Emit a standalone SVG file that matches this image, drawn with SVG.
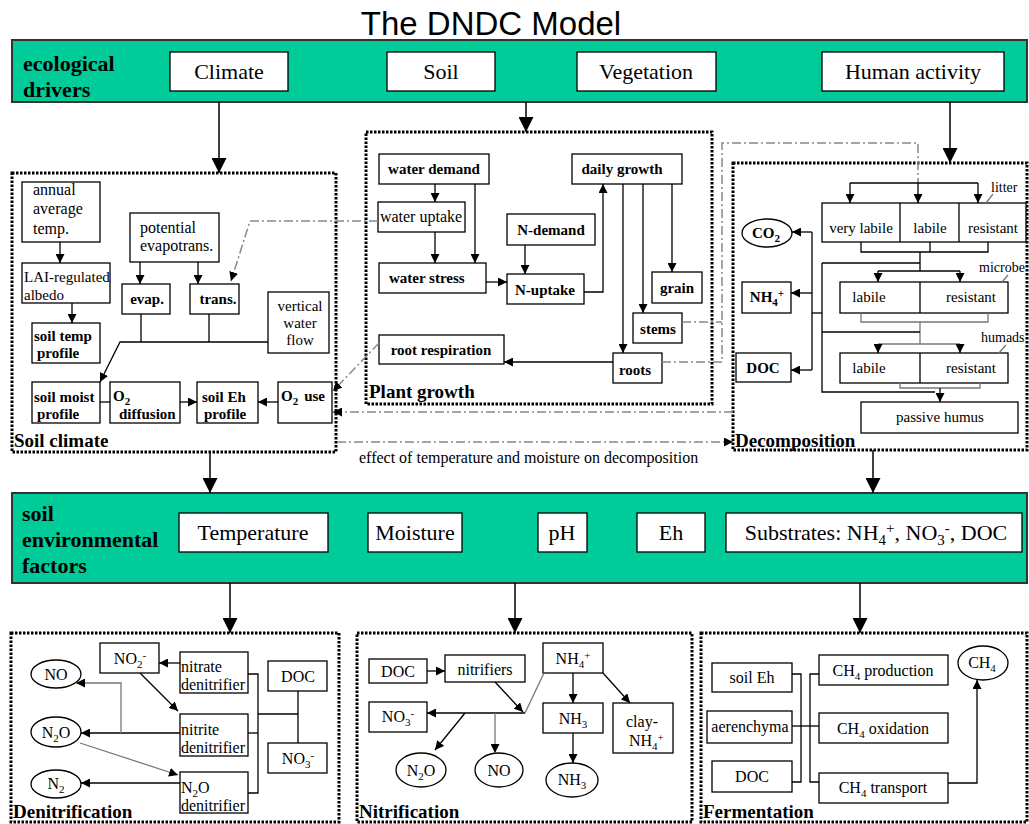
<svg xmlns="http://www.w3.org/2000/svg" width="1029" height="824" viewBox="0 0 1029 824">
<style>
.t{font-family:"Liberation Serif","Times New Roman",serif;font-size:15px;fill:#000}
.m{text-anchor:middle}
.b{font-weight:bold}
.s16{font-size:16px}
.s14{font-size:14px}
.big{font-size:22px}
.lab{font-size:19px;font-weight:bold}
.box{fill:#fff;stroke:#000;stroke-width:1.3}
.el{fill:#fff;stroke:#000;stroke-width:1.3}
.ban{fill:#00CC99;stroke:#333;stroke-width:2}
.panel{fill:none;stroke:#000;stroke-width:3;stroke-dasharray:2.5 1.5}
.ln{fill:none;stroke:#000;stroke-width:1.3}
.gr{fill:none;stroke:#777;stroke-width:1.3}
.dd{fill:none;stroke:#888;stroke-width:1.5;stroke-dasharray:9 3 2 3}
.main{fill:none;stroke:#000;stroke-width:1.5}
</style>
<defs>
<marker id="a" viewBox="0 0 10 10" refX="10" refY="5" markerWidth="9" markerHeight="9" markerUnits="userSpaceOnUse" orient="auto"><path d="M0,0L10,5L0,10z" fill="#000"/></marker>
<marker id="A" viewBox="0 0 10 10" refX="10" refY="5" markerWidth="15" markerHeight="15" markerUnits="userSpaceOnUse" orient="auto"><path d="M0,0L10,5L0,10z" fill="#000"/></marker>
</defs>

<text x="491" y="35" text-anchor="middle" style="font-family:'Liberation Sans',Arial,sans-serif;font-size:33px">The DNDC Model</text>

<!-- ecological drivers banner -->
<g id="drivers">
<rect class="ban" x="12" y="40" width="1015" height="62"/>
<text class="t b big" x="23" y="71">ecological</text>
<text class="t b big" x="23" y="97">drivers</text>
</g>
<g id="climate"><rect class="box" x="170" y="52" width="118" height="39"/><text class="t big m" x="229" y="79">Climate</text></g>
<g id="soil"><rect class="box" x="387" y="52" width="108" height="39"/><text class="t big m" x="441" y="79">Soil</text></g>
<g id="vegetation"><rect class="box" x="577" y="52" width="139" height="39"/><text class="t big m" x="646" y="79">Vegetation</text></g>
<g id="human"><rect class="box" x="822" y="52" width="182" height="39"/><text class="t big m" x="913" y="79">Human activity</text></g>

<!-- panels -->
<g id="soil-climate"><rect class="panel" x="12" y="173" width="324" height="279"/><text class="t lab" x="14" y="447">Soil climate</text></g>
<g id="plant-growth"><rect class="panel" x="366" y="132" width="346" height="272"/><text class="t lab" x="369" y="398">Plant growth</text></g>
<g id="decomposition"><rect class="panel" x="733" y="163" width="294" height="287"/><text class="t lab" x="735" y="447">Decomposition</text></g>

<!-- soil climate nodes -->
<g id="annual"><rect class="box" x="22" y="182" width="78" height="60"/><text class="t s16" x="33" y="195">annual</text><text class="t s16" x="33" y="214">average</text><text class="t s16" x="33" y="234">temp.</text></g>
<g id="lai"><rect class="box" x="22" y="263" width="88" height="40"/><text class="t" x="24" y="282">LAI-regulated</text><text class="t" x="24" y="300">albedo</text></g>
<g id="soiltemp"><rect class="box" x="32" y="323" width="68" height="40"/><text class="t b" x="34" y="341">soil temp</text><text class="t b" x="37" y="358">profile</text></g>
<g id="pet"><rect class="box" x="130" y="213" width="89" height="49"/><text class="t s16" x="140" y="233">potential</text><text class="t s16" x="140" y="251">evapotrans.</text></g>
<g id="evap"><rect class="box" x="122" y="284" width="48" height="30"/><text class="t b m" x="147" y="304">evap.</text></g>
<g id="trans"><rect class="box" x="190" y="284" width="49" height="30"/><text class="t b m" x="218" y="304">trans.</text></g>
<g id="vwf"><rect class="box" x="268" y="292" width="61" height="61"/><text class="t m" x="300" y="311">vertical</text><text class="t m" x="300" y="328">water</text><text class="t m" x="300" y="345">flow</text></g>
<g id="soilmoist"><rect class="box" x="32" y="382" width="68" height="41"/><text class="t b" x="34" y="402">soil moist</text><text class="t b" x="37" y="419">profile</text></g>
<g id="o2diff"><rect class="box" x="110" y="382" width="70" height="41"/><text class="t b" x="113" y="401">O<tspan dy="4" font-size="11">2</tspan></text><text class="t b" x="119" y="419">diffusion</text></g>
<g id="soileh"><rect class="box" x="197" y="382" width="61" height="41"/><text class="t b" x="202" y="402">soil Eh</text><text class="t b" x="204" y="419">profile</text></g>
<g id="o2use"><rect class="box" x="278" y="382" width="54" height="41"/><text class="t b" x="281" y="401">O<tspan dy="4" font-size="11">2</tspan><tspan dy="-4" dx="6">use</tspan></text></g>

<!-- plant growth nodes -->
<g id="waterdemand"><rect class="box" x="379" y="154" width="110" height="30"/><text class="t b m" x="434" y="174">water demand</text></g>
<g id="wateruptake"><rect class="box" x="378" y="202" width="87" height="30"/><text class="t s16 m" x="421" y="222">water uptake</text></g>
<g id="waterstress"><rect class="box" x="379" y="263" width="107" height="30"/><text class="t b" x="389" y="283">water stress</text></g>
<g id="ndemand"><rect class="box" x="507" y="214" width="88" height="31"/><text class="t b m" x="551" y="235">N-demand</text></g>
<g id="nuptake"><rect class="box" x="507" y="274" width="77" height="30"/><text class="t b m" x="545" y="295">N-uptake</text></g>
<g id="dailygrowth"><rect class="box" x="572" y="154" width="110" height="30"/><text class="t b m" x="622" y="174">daily growth</text></g>
<g id="grain"><rect class="box" x="652" y="272" width="50" height="31"/><text class="t b m" x="677" y="293">grain</text></g>
<g id="stems"><rect class="box" x="633" y="313" width="49" height="30"/><text class="t b m" x="658" y="334">stems</text></g>
<g id="roots"><rect class="box" x="613" y="353" width="49" height="30"/><text class="t b m" x="635" y="375">roots</text></g>
<g id="rootresp"><rect class="box" x="379" y="335" width="125" height="29"/><text class="t b m" x="441" y="355">root respiration</text></g>

<!-- decomposition nodes -->
<g id="co2"><ellipse class="el" cx="767" cy="233" rx="25" ry="14"/><text class="t b m" x="766" y="238">CO<tspan dy="4" font-size="11">2</tspan></text></g>
<g id="nh4d"><rect class="box" x="742" y="282" width="49" height="31"/><text class="t b m" x="767" y="302">NH<tspan dy="4" font-size="11">4</tspan><tspan dy="-9" font-size="11">+</tspan></text></g>
<g id="docd"><rect class="box" x="736" y="353" width="55" height="29"/><text class="t b m" x="763" y="373">DOC</text></g>
<g id="litter"><rect class="box" x="822" y="203" width="204" height="39"/><line class="ln" x1="900" y1="203" x2="900" y2="242"/><line class="ln" x1="959" y1="203" x2="959" y2="242"/><text class="t m" x="861" y="233">very labile</text><text class="t m" x="930" y="233">labile</text><text class="t m" x="993" y="233">resistant</text><text class="t s14" x="991" y="192">litter</text><line class="gr" x1="993" y1="194" x2="986" y2="203"/></g>
<g id="microbe"><rect class="box" x="840" y="282" width="168" height="31"/><line class="ln" x1="920" y1="282" x2="920" y2="313"/><text class="t m" x="869" y="302">labile</text><text class="t m" x="971" y="302">resistant</text><text class="t s14" x="979" y="272">microbe</text><line class="gr" x1="1008" y1="275" x2="1002" y2="282"/></g>
<g id="humads"><rect class="box" x="840" y="353" width="168" height="30"/><line class="ln" x1="920" y1="353" x2="920" y2="383"/><text class="t m" x="869" y="373">labile</text><text class="t m" x="971" y="373">resistant</text><text class="t s14" x="981" y="342">humads</text><line class="gr" x1="1006" y1="345" x2="999" y2="353"/></g>
<g id="passive"><rect class="box" x="861" y="402" width="157" height="31"/><text class="t m" x="940" y="422">passive humus</text></g>

<!-- soil environmental factors banner -->
<g id="factors">
<rect class="ban" x="12" y="493" width="1015" height="90"/>
<text class="t b big" x="22" y="521">soil</text>
<text class="t b big" x="22" y="547">environmental</text>
<text class="t b big" x="22" y="573">factors</text>
</g>
<g id="temperature"><rect class="box" x="179" y="513" width="149" height="39"/><text class="t big m" x="253" y="540">Temperature</text></g>
<g id="moisture"><rect class="box" x="368" y="513" width="94" height="39"/><text class="t big m" x="415" y="540">Moisture</text></g>
<g id="ph"><rect class="box" x="538" y="513" width="49" height="39"/><text class="t big m" x="562" y="540">pH</text></g>
<g id="eh"><rect class="box" x="637" y="513" width="68" height="39"/><text class="t big m" x="671" y="540">Eh</text></g>
<g id="substrates"><rect class="box" x="726" y="513" width="296" height="39"/><text class="t big m" x="876" y="540">Substrates: NH<tspan dy="5" font-size="15">4</tspan><tspan dy="-12" font-size="15">+</tspan><tspan dy="7">,  NO</tspan><tspan dy="5" font-size="15">3</tspan><tspan dy="-12" font-size="15">-</tspan><tspan dy="7">, DOC</tspan></text></g>

<!-- bottom panels -->
<g id="denitrification"><rect class="panel" x="11" y="633" width="328" height="189"/><text class="t lab" x="13" y="818">Denitrification</text></g>
<g id="nitrification"><rect class="panel" x="357" y="633" width="335" height="189"/><text class="t lab" x="359" y="818">Nitrification</text></g>
<g id="fermentation"><rect class="panel" x="701" y="633" width="326" height="189"/><text class="t lab" x="703" y="818">Fermentation</text></g>

<!-- denitrification nodes -->
<g id="no-d"><ellipse class="el" cx="56" cy="674" rx="25" ry="14"/><text class="t s16 m" x="56" y="680">NO</text></g>
<g id="n2o-d"><ellipse class="el" cx="56" cy="732" rx="25" ry="15"/><text class="t s16 m" x="56" y="738">N<tspan dy="4" font-size="11">2</tspan><tspan dy="-4">O</tspan></text></g>
<g id="n2-d"><ellipse class="el" cx="56" cy="784" rx="25" ry="14"/><text class="t s16 m" x="56" y="789">N<tspan dy="4" font-size="11">2</tspan></text></g>
<g id="no2-d"><rect class="box" x="100" y="643" width="59" height="30"/><text class="t s16 m" x="130" y="664">NO<tspan dy="4" font-size="11">2</tspan><tspan dy="-9" font-size="11">-</tspan></text></g>
<g id="nitrate-den"><rect class="box" x="180" y="652" width="68" height="41"/><text class="t s16" x="181" y="672">nitrate</text><text class="t s16" x="181" y="690">denitrifier</text></g>
<g id="nitrite-den"><rect class="box" x="180" y="714" width="68" height="42"/><text class="t s16" x="181" y="735">nitrite</text><text class="t s16" x="181" y="753">denitrifier</text></g>
<g id="n2o-den"><rect class="box" x="180" y="772" width="68" height="41"/><text class="t s16" x="181" y="793">N<tspan dy="4" font-size="11">2</tspan><tspan dy="-4">O</tspan></text><text class="t s16" x="181" y="811">denitrifier</text></g>
<g id="doc-d"><rect class="box" x="268" y="661" width="59" height="30"/><text class="t s16 m" x="298" y="682">DOC</text></g>
<g id="no3-d"><rect class="box" x="268" y="743" width="59" height="30"/><text class="t s16 m" x="298" y="764">NO<tspan dy="4" font-size="11">3</tspan><tspan dy="-9" font-size="11">-</tspan></text></g>

<!-- nitrification nodes -->
<g id="doc-n"><rect class="box" x="369" y="659" width="58" height="24"/><text class="t s16 m" x="398" y="677">DOC</text></g>
<g id="nitrifiers"><rect class="box" x="445" y="655" width="80" height="27"/><text class="t s16 m" x="485" y="675">nitrifiers</text></g>
<g id="nh4-n"><rect class="box" x="543" y="643" width="60" height="30"/><text class="t s16 m" x="573" y="664">NH<tspan dy="4" font-size="11">4</tspan><tspan dy="-9" font-size="11">+</tspan></text></g>
<g id="no3-n"><rect class="box" x="369" y="702" width="58" height="30"/><text class="t s16 m" x="398" y="722">NO<tspan dy="4" font-size="11">3</tspan><tspan dy="-9" font-size="11">-</tspan></text></g>
<g id="nh3-box"><rect class="box" x="543" y="703" width="60" height="30"/><text class="t s16 m" x="573" y="724">NH<tspan dy="4" font-size="11">3</tspan></text></g>
<g id="clay-nh4"><rect class="box" x="613" y="703" width="60" height="50"/><text class="t s16" x="626" y="727">clay-</text><text class="t s16" x="629" y="746">NH<tspan dy="4" font-size="11">4</tspan><tspan dy="-9" font-size="11">+</tspan></text></g>
<g id="n2o-n"><ellipse class="el" cx="421" cy="770" rx="25" ry="17"/><text class="t s16 m" x="421" y="776">N<tspan dy="4" font-size="11">2</tspan><tspan dy="-4">O</tspan></text></g>
<g id="no-n"><ellipse class="el" cx="499" cy="770" rx="24" ry="17"/><text class="t s16 m" x="499" y="776">NO</text></g>
<g id="nh3-n"><ellipse class="el" cx="572" cy="780" rx="26" ry="17"/><text class="t s16 m" x="572" y="785">NH<tspan dy="4" font-size="11">3</tspan></text></g>

<!-- fermentation nodes -->
<g id="soileh-f"><rect class="box" x="712" y="663" width="80" height="29"/><text class="t s16 m" x="752" y="683">soil Eh</text></g>
<g id="aerenchyma"><rect class="box" x="707" y="711" width="85" height="32"/><text class="t s16 m" x="750" y="732">aerenchyma</text></g>
<g id="doc-f"><rect class="box" x="712" y="761" width="80" height="31"/><text class="t s16 m" x="752" y="782">DOC</text></g>
<g id="ch4prod"><rect class="box" x="819" y="655" width="129" height="30"/><text class="t s16 m" x="883" y="676">CH<tspan dy="4" font-size="11">4</tspan><tspan dy="-4"> production</tspan></text></g>
<g id="ch4ox"><rect class="box" x="819" y="713" width="129" height="30"/><text class="t s16 m" x="883" y="734">CH<tspan dy="4" font-size="11">4</tspan><tspan dy="-4"> oxidation</tspan></text></g>
<g id="ch4tr"><rect class="box" x="819" y="773" width="129" height="30"/><text class="t s16 m" x="883" y="793">CH<tspan dy="4" font-size="11">4</tspan><tspan dy="-4"> transport</tspan></text></g>
<g id="ch4"><ellipse class="el" cx="983" cy="663" rx="25" ry="17"/><text class="t s16 m" x="982" y="668">CH<tspan dy="4" font-size="11">4</tspan></text></g>

<text class="t s16" x="359" y="463">effect of temperature and moisture on decomposition</text>

<!-- connectors -->
<g id="connectors">
<line class="main" x1="219" y1="102" x2="219" y2="173" marker-end="url(#A)"/>
<line class="main" x1="526" y1="102" x2="526" y2="132" marker-end="url(#A)"/>
<line class="main" x1="950" y1="102" x2="950" y2="163" marker-end="url(#A)"/>
<line class="main" x1="210" y1="452" x2="210" y2="493" marker-end="url(#A)"/>
<line class="main" x1="873" y1="450" x2="873" y2="493" marker-end="url(#A)"/>
<line class="main" x1="230" y1="583" x2="230" y2="633" marker-end="url(#A)"/>
<line class="main" x1="515" y1="583" x2="515" y2="633" marker-end="url(#A)"/>
<line class="main" x1="860" y1="583" x2="860" y2="633" marker-end="url(#A)"/>

<line class="ln" x1="60" y1="242" x2="60" y2="263" marker-end="url(#a)"/>
<line class="ln" x1="72" y1="303" x2="72" y2="323" marker-end="url(#a)"/>
<line class="ln" x1="140" y1="262" x2="140" y2="284" marker-end="url(#a)"/>
<line class="ln" x1="198" y1="262" x2="198" y2="284" marker-end="url(#a)"/>
<polyline class="ln" points="141,314 141,342"/>
<polyline class="ln" points="209,314 209,342"/>
<polyline class="ln" points="268,342 120,342 100,382" marker-end="url(#a)"/>
<line class="ln" x1="100" y1="402" x2="110" y2="402"/>
<line class="ln" x1="180" y1="402" x2="197" y2="402" marker-end="url(#a)"/>
<line class="ln" x1="278" y1="402" x2="258" y2="402" marker-end="url(#a)"/>

<line class="ln" x1="435" y1="184" x2="435" y2="202" marker-end="url(#a)"/>
<line class="ln" x1="475" y1="184" x2="475" y2="263" marker-end="url(#a)"/>
<line class="ln" x1="435" y1="232" x2="435" y2="263" marker-end="url(#a)"/>
<line class="ln" x1="486" y1="282" x2="507" y2="282" marker-end="url(#a)"/>
<line class="ln" x1="525" y1="245" x2="525" y2="274" marker-end="url(#a)"/>
<polyline class="ln" points="584,292 603,292 603,184" marker-end="url(#a)"/>
<line class="ln" x1="623" y1="184" x2="623" y2="353" marker-end="url(#a)"/>
<line class="ln" x1="643" y1="184" x2="643" y2="313" marker-end="url(#a)"/>
<line class="ln" x1="672" y1="184" x2="672" y2="272" marker-end="url(#a)"/>
<line class="ln" x1="613" y1="362" x2="504" y2="362" marker-end="url(#a)"/>

<polyline class="dd" points="378,221 250,221 231,281" marker-end="url(#a)"/>
<line class="dd" x1="379" y1="343" x2="333" y2="391" marker-end="url(#a)"/>
<line class="dd" x1="733" y1="412" x2="333" y2="412" marker-end="url(#a)"/>
<line class="dd" x1="337" y1="442" x2="733" y2="442" marker-end="url(#a)"/>
<line class="dd" x1="682" y1="322" x2="722" y2="322"/>
<polyline class="dd" points="662,362 722,362 722,143 918,143 918,183"/>

<line class="ln" x1="850" y1="183" x2="978" y2="183"/>
<line class="ln" x1="850" y1="183" x2="850" y2="203" marker-end="url(#a)"/>
<line class="ln" x1="918" y1="183" x2="918" y2="203" marker-end="url(#a)"/>
<line class="ln" x1="978" y1="183" x2="978" y2="203" marker-end="url(#a)"/>
<polyline class="ln" points="861,242 861,252 988,252 988,242"/>
<line class="ln" x1="930" y1="242" x2="930" y2="252"/>
<line class="ln" x1="920" y1="252" x2="920" y2="271"/>
<line class="ln" x1="822" y1="263" x2="920" y2="263"/>
<line class="ln" x1="878" y1="271" x2="960" y2="271"/>
<line class="ln" x1="878" y1="271" x2="878" y2="282" marker-end="url(#a)"/>
<line class="ln" x1="960" y1="271" x2="960" y2="282" marker-end="url(#a)"/>
<polyline class="gr" points="861,313 861,322 988,322 988,313"/>
<line class="gr" x1="920" y1="322" x2="920" y2="344"/>
<line class="ln" x1="822" y1="332" x2="920" y2="332"/>
<line class="gr" x1="878" y1="344" x2="960" y2="344"/>
<line class="ln" x1="878" y1="344" x2="878" y2="353" marker-end="url(#a)"/>
<line class="ln" x1="960" y1="344" x2="960" y2="353" marker-end="url(#a)"/>
<polyline class="gr" points="900,383 900,388 980,388 980,383"/>
<line class="ln" x1="940" y1="388" x2="940" y2="402" marker-end="url(#a)"/>
<polyline class="ln" points="822,263 822,392 935,392"/>
<line class="ln" x1="812" y1="313" x2="822" y2="313"/>
<line class="ln" x1="812" y1="232" x2="812" y2="370"/>
<line class="ln" x1="812" y1="232" x2="792" y2="232" marker-end="url(#a)"/>
<line class="ln" x1="812" y1="293" x2="791" y2="293" marker-end="url(#a)"/>
<line class="ln" x1="812" y1="370" x2="791" y2="370" marker-end="url(#a)"/>

<line class="ln" x1="180" y1="663" x2="159" y2="663" marker-end="url(#a)"/>
<line class="ln" x1="140" y1="673" x2="178" y2="711" marker-end="url(#a)"/>
<line class="ln" x1="180" y1="733" x2="81" y2="733" marker-end="url(#a)"/>
<polyline class="gr" points="121,733 121,683 76,683" marker-end="url(#a)"/>
<line class="gr" x1="80" y1="743" x2="178" y2="775" marker-end="url(#a)"/>
<line class="ln" x1="180" y1="783" x2="81" y2="783" marker-end="url(#a)"/>
<polyline class="ln" points="248,674 258,674 258,793 248,793"/>
<line class="ln" x1="248" y1="733" x2="258" y2="733"/>
<line class="ln" x1="258" y1="714" x2="298" y2="714"/>
<line class="ln" x1="298" y1="691" x2="298" y2="743"/>

<line class="ln" x1="427" y1="671" x2="445" y2="671" marker-end="url(#a)"/>
<line class="ln" x1="495" y1="682" x2="523" y2="712" marker-end="url(#a)"/>
<line class="gr" x1="544" y1="673" x2="525" y2="713"/>
<line class="ln" x1="525" y1="713" x2="427" y2="713" marker-end="url(#a)"/>
<line class="ln" x1="465" y1="713" x2="435" y2="750" marker-end="url(#a)"/>
<line class="gr" x1="495" y1="713" x2="495" y2="753" marker-end="url(#a)"/>
<line class="ln" x1="573" y1="673" x2="573" y2="703" marker-end="url(#a)"/>
<line class="ln" x1="573" y1="733" x2="573" y2="763" marker-end="url(#a)"/>
<line class="ln" x1="603" y1="673" x2="630" y2="703" marker-end="url(#a)"/>

<polyline class="ln" points="792,674 801,674 801,782 792,782"/>
<line class="ln" x1="792" y1="726" x2="819" y2="726"/>
<polyline class="ln" points="819,674 810,674 810,782 819,782"/>
<polyline class="ln" points="948,783 977,783 977,680" marker-end="url(#a)"/>
</g>
</svg>
